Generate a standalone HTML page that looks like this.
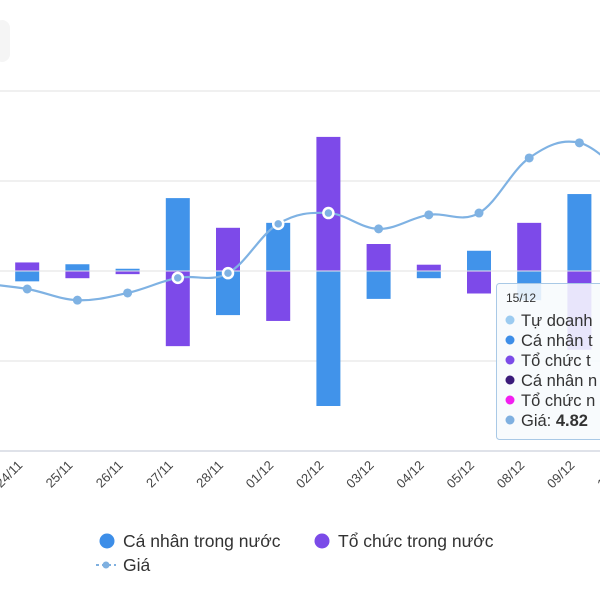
<!DOCTYPE html>
<html><head><meta charset="utf-8"><style>
body{margin:0;background:#fff;width:600px;height:600px;overflow:hidden;font-family:"Liberation Sans","DejaVu Sans",sans-serif}
svg{position:absolute;left:0;top:0}
</style></head><body>
<svg width="600" height="600">
<rect x="-6" y="20" width="16" height="42" rx="8" fill="#f5f5f5"/>
<g id="grid"></g><g id="bars"></g><g id="line"></g><g id="xlabels"></g>
<g id="tooltip">
<rect x="496.5" y="283.5" width="120" height="156" rx="3" fill="rgba(247,250,253,0.88)" stroke="#a9c9e6"/>
<text x="506" y="302" font-size="12" fill="#333">15/12</text>
<g font-size="16.5" fill="#333">
<circle cx="510" cy="320" r="4.5" fill="#9ccbf0"/><text x="521" y="326">Tự doanh</text>
<circle cx="510" cy="340" r="4.5" fill="#3d8ee8"/><text x="521" y="346">Cá nhân t</text>
<circle cx="510" cy="360" r="4.5" fill="#7b4be8"/><text x="521" y="366">Tổ chức t</text>
<circle cx="510" cy="380" r="4.5" fill="#3a1a7a"/><text x="521" y="386">Cá nhân n</text>
<circle cx="510" cy="400" r="4.5" fill="#f21ef0"/><text x="521" y="406">Tổ chức n</text>
<circle cx="510" cy="420" r="4.5" fill="#7fb0e0"/><text x="521" y="426">Giá: <tspan font-weight="bold">4.82</tspan></text>
</g></g>
<g font-size="17.5" fill="#333">
<g><circle cx="107" cy="541" r="7.5" fill="#3d8ee8"/><text x="123" y="547">Cá nhân trong nước</text></g>
<g><circle cx="322" cy="541" r="7.5" fill="#7b4be8"/><text x="338" y="547">Tổ chức trong nước</text></g>
<g><line x1="96" y1="565" x2="116" y2="565" stroke="#7fb0e0" stroke-width="2" stroke-dasharray="3,3"/><circle cx="106" cy="565" r="3.5" fill="#7fb0e0"/><text x="123" y="571">Giá</text></g>
</g>
</svg>
<script>
const categories=["21/11","24/11","25/11","26/11","27/11","28/11","01/12","02/12","03/12","04/12","05/12","08/12","09/12","10/12"];
const caNhan=[0,-230,150,50,1620,-980,1070,-3000,-620,-160,450,-650,1710,0];
const toChuc=[0,190,-160,-70,-1670,960,-1110,2980,600,140,-500,1070,-1750,0];
const gia=[4.467,4.45,4.419,4.439,4.481,4.494,4.631,4.661,4.617,4.656,4.661,4.814,4.856,4.75];
const hollow=[4,5,6,7];
const yTicks=[-4000,-2000,0,2000,4000];
const NS='http://www.w3.org/2000/svg';
const x0=-23,step=50.2,zeroY=271,pxPer=90/2000;
const xs=i=>x0+i*step;
const yv=v=>zeroY-v*pxPer;
const yp=p=>451-(p-4)*360;
function mk(t,a,parent){const e=document.createElementNS(NS,t);for(const k in a)e.setAttribute(k,a[k]);parent.appendChild(e);return e;}
const grid=document.getElementById('grid');
yTicks.forEach(t=>{const l=mk('line',{x1:0,x2:600,y1:yv(t),y2:yv(t),stroke:t===-4000?'#ccd0dc':'#e6e6e6','stroke-width':1.2},grid);

});
const bars=document.getElementById('bars');
function bar(i,v,c,name){if(!v)return;const y=v>0?yv(v):zeroY+0.5;const h=Math.abs(v)*pxPer-0.5;
const r=mk('rect',{x:xs(i)-12,y:y,width:24,height:h,fill:c},bars);

}
categories.forEach((c,i)=>{bar(i,caNhan[i],'#4193ea','bar-ca-nhan');bar(i,toChuc[i],'#7d4ae9','bar-to-chuc');});
const pts=gia.map((p,i)=>[xs(i),yp(p)]);
let d='M'+pts[0][0]+','+pts[0][1];
for(let i=0;i<pts.length-1;i++){const p0=pts[Math.max(i-1,0)],p1=pts[i],p2=pts[i+1],p3=pts[Math.min(i+2,pts.length-1)];
const t=0.18;d+=` C${p1[0]+(p2[0]-p0[0])*t},${p1[1]+(p2[1]-p0[1])*t} ${p2[0]-(p3[0]-p1[0])*t},${p2[1]-(p3[1]-p1[1])*t} ${p2[0]},${p2[1]}`;}
const lg=document.getElementById('line');
const path=mk('path',{d:d,fill:'none',stroke:'#7fb2e3','stroke-width':2.2},lg);


pts.forEach((p,i)=>{const h=hollow.includes(i);
const c=mk('circle',{cx:p[0],cy:p[1],r:h?5:4.5,fill:'#7fb2e3',stroke:h?'#fff':'none','stroke-width':2.5},lg);

});
const xl=document.getElementById('xlabels');
categories.forEach((c,i)=>{const x=xs(i)-4,y=466;
const t=mk('text',{x:x,y:y,'font-size':13,fill:'#444','text-anchor':'end',transform:`rotate(-45 ${x} ${y})`},xl);
t.textContent=c;

});
</script>
</body></html>
